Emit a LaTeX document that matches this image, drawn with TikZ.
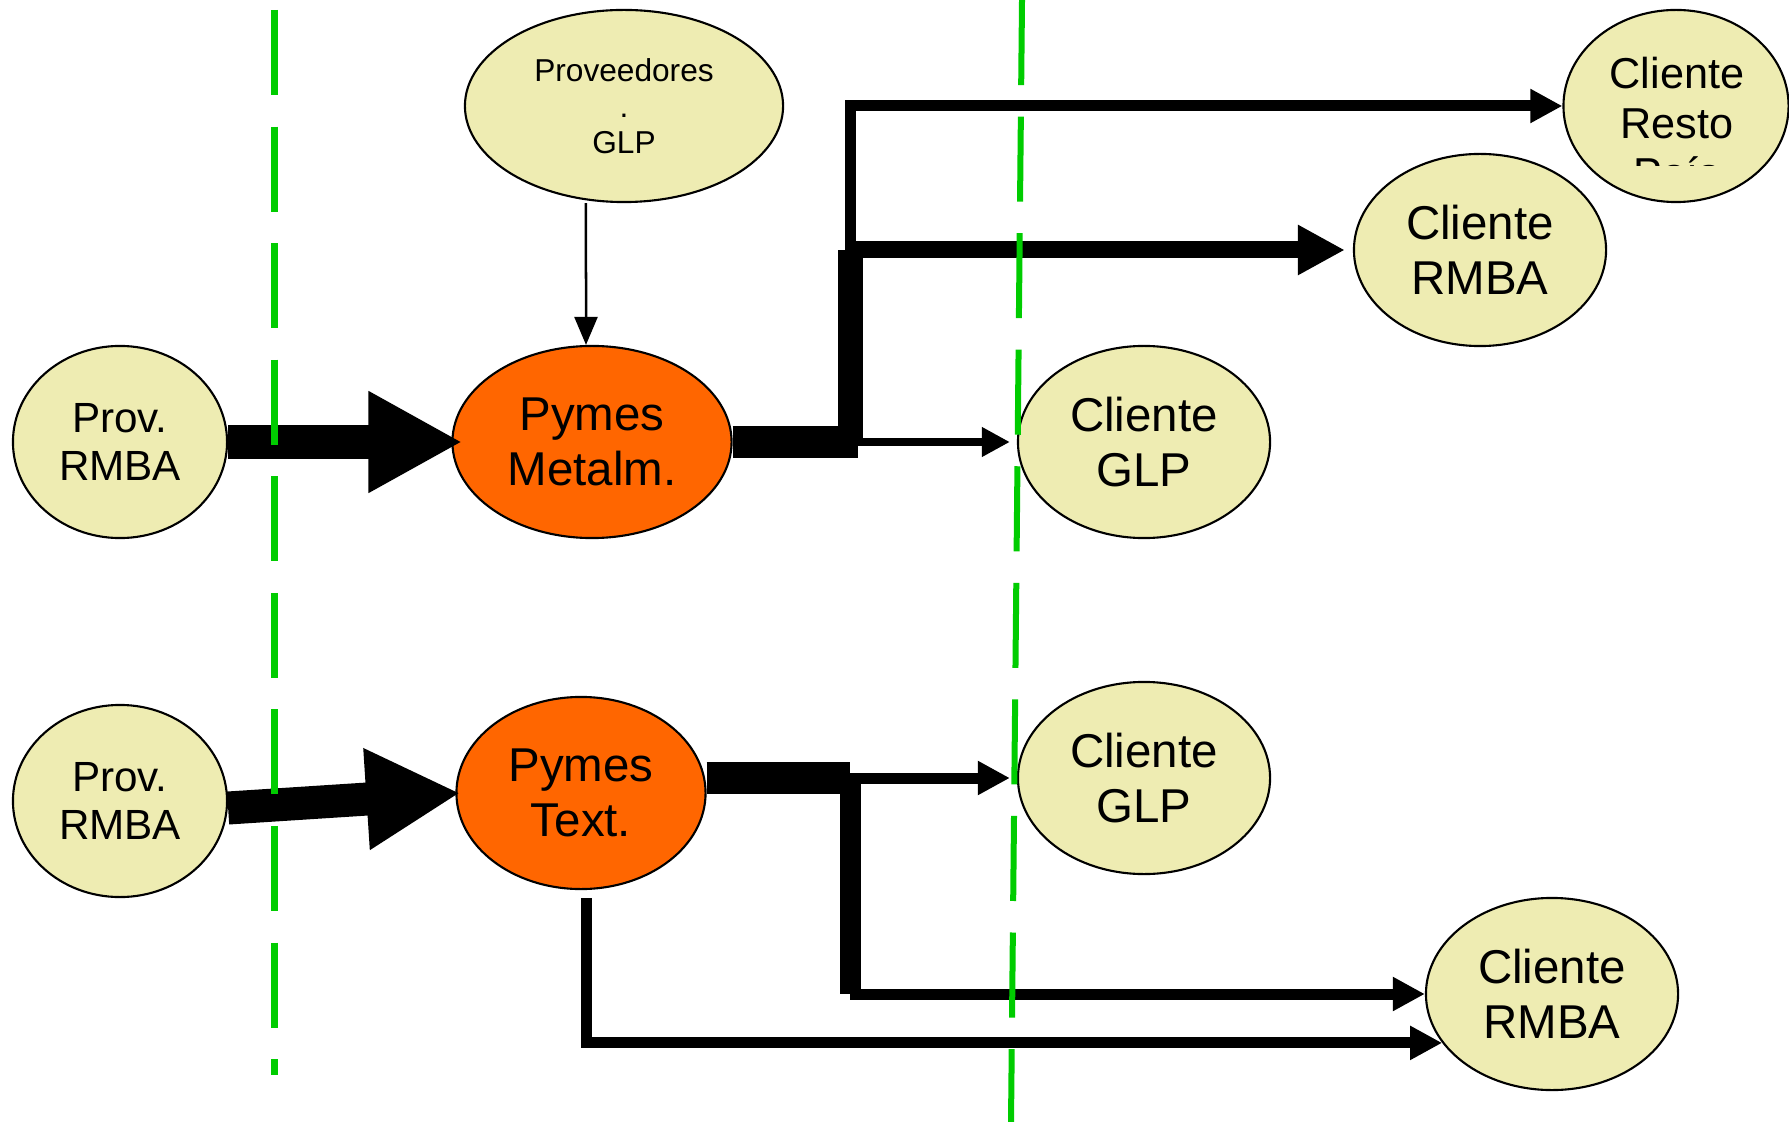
\documentclass[tikz,border=0pt]{standalone}
\usepackage{fontspec}
\setmainfont{Liberation Sans}
\usetikzlibrary{shapes.geometric,arrows.meta}
\definecolor{crema}{RGB}{238,236,178}
\definecolor{naranja}{RGB}{255,102,0}
\definecolor{verde}{RGB}{0,204,0}
\tikzset{>=Triangle}

\begin{document}
\begin{tikzpicture}[x=0.01cm,y=-0.01cm,
elip/.style={ellipse,draw,line width=0.6pt,fill=crema,inner sep=0pt,minimum height=1.92cm,align=center,font=\fontsize{13.5}{15.6}\selectfont},
pyme/.style={elip,fill=naranja},
chico/.style={font=\fontsize{12}{13.8}\selectfont},
gruesa/.style={line width=0.33cm,-{Triangle[length=0.94cm,width=0.95cm]}},
barra/.style={line width=0.32cm},
media/.style={line width=0.17cm,-{Triangle[length=0.47cm,width=0.47cm]}},
flecha/.style={line width=0.11cm,-{Triangle[length=0.32cm,width=0.32cm]}},
fina/.style={line width=0.07cm,-{Triangle[length=0.28cm,width=0.28cm]}},
frontera/.style={verde,line width=0.07cm,dash pattern=on 0.85cm off 0.315cm}]
\useasboundingbox (0,0) rectangle (1789,1122);
% arriba
\node[elip,chico,minimum width=2.14cm] (provA) at (120,442) {Prov.\\RMBA};
\node[pyme,minimum width=2.79cm] (metal) at (592,442) {Pymes\\Metalm.};
\node[elip,minimum width=3.18cm,font=\fontsize{9}{10.2}\selectfont] (provGLP) at (624,106) {Proveedores\\.\\GLP};
\node[elip,minimum width=2.25cm] (resto) at (1676,106) {};
\begin{scope}
\clip (1560,0) rectangle (1789,166);
\node[align=center,font=\fontsize{12.3}{14.2}\selectfont] at (1677,123) {Cliente\\Resto\\País};
\end{scope}
\node[elip,minimum width=2.52cm] (rmbA) at (1480,250) {Cliente\\RMBA};
\node[elip,minimum width=2.52cm] (glpA) at (1144,442) {Cliente\\GLP};
% abajo
\node[elip,chico,minimum width=2.14cm] (provB) at (120,801) {Prov.\\RMBA};
\node[pyme,minimum width=2.49cm] (texto) at (581,793) {Pymes\\Text.};
\node[elip,minimum width=2.52cm] (glpB) at (1144,778) {Cliente\\GLP};
\node[elip,minimum width=2.52cm] (rmbB) at (1552,994) {Cliente\\RMBA};
\coordinate (jA) at (858,442);
\coordinate (kneeA) at (850,250);
\coordinate (jB) at (850,778);
\coordinate (kneeB) at (850,994);

\draw[gruesa,shorten >=-0.11cm] (provA) -- (metal);
\draw[line width=0.025cm,-{Triangle[length=0.28cm,width=0.23cm]}] ([xshift=-0.38cm]provGLP.south) -- ([xshift=-0.06cm]metal.north);
\draw[barra] (metal.east) -- (jA);
\draw[line width=0.25cm] (kneeA |- jA) -- (kneeA);
\draw[fina,shorten >=0.07cm] (jA) -- (glpA);
\draw[media,shorten >=0.08cm] (kneeA) -- (rmbA);
\draw[flecha] (kneeA) |- (resto.west);

\draw[gruesa] ([yshift=-0.07cm]provB.east) -- ([xshift=0.05cm]texto.west);
\draw[barra] (texto.east |- jB) -- (jB);
\draw[flecha,shorten >=0.07cm] (jB) -- (glpB);
\draw[line width=0.21cm] (jB) -- (kneeB);
\draw[flecha] (kneeB) -- (rmbB);
\draw[flecha] ([xshift=0.05cm,yshift=-0.08cm]texto.south) |- (rmbB.204);

\draw[frontera] (274,10) -- (274,1075);
\draw[frontera,line width=0.06cm] (1022,0) -- (1011,1122);
\end{tikzpicture}
\end{document}
